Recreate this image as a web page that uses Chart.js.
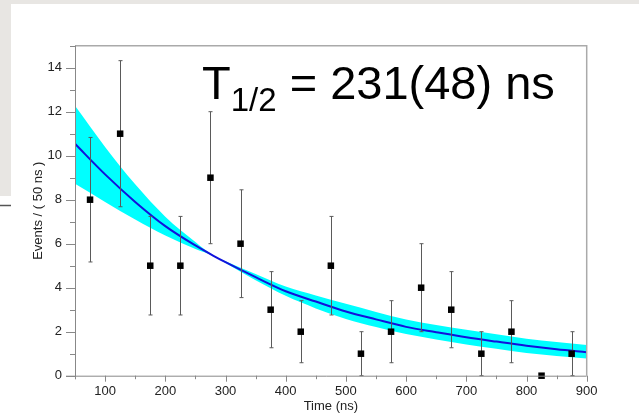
<!DOCTYPE html>
<html>
<head>
<meta charset="utf-8">
<script src="https://cdn.jsdelivr.net/npm/chart.js@4"></script>
<style>
  html, body { margin: 0; padding: 0; background: #fff; }
  #chart { display: block; }
</style>
</head>
<body>
<canvas id="chart" width="639" height="414"></canvas>
<script>
// binned decay-time data (bin width 50 ns)
const binCenters = [75, 125, 175, 225, 275, 325, 375, 425, 475, 525, 575, 625, 675, 725, 775, 825, 875];
const counts = [8, 11, 5, 5, 9, 6, 3, 2, 5, 1, 2, 4, 3, 1, 2, 0, 1];
const countErr = [2.83, 3.32, 2.24, 2.24, 3, 2.45, 1.73, 1.41, 2.24, 1, 1.41, 2, 1.73, 1, 1.41, 0, 1];

// fitted exponential + error band
const fitX = [50, 100, 150, 200, 250, 280, 300, 350, 400, 450, 500, 550, 600, 650, 700, 750, 800, 850, 900];
const fitY = [10.54, 9.15, 7.9, 6.8, 5.92, 5.45, 5.16, 4.48, 3.84, 3.37, 2.92, 2.56, 2.22, 1.98, 1.75, 1.55, 1.36, 1.2, 1.07];
const bandHigh = [12.27, 10.4, 8.7, 7.23, 6.08, 5.46, 5.2, 4.62, 4.05, 3.65, 3.27, 2.9, 2.56, 2.31, 2.09, 1.88, 1.68, 1.53, 1.39];
const bandLow = [8.72, 7.9, 7.1, 6.37, 5.76, 5.44, 5.12, 4.34, 3.63, 3.06, 2.58, 2.21, 1.89, 1.65, 1.42, 1.22, 1.03, 0.9, 0.78];

const xTickLabels = [100, 200, 300, 400, 500, 600, 700, 800, 900];
const yTickLabels = [0, 2, 4, 6, 8, 10, 12, 14];

const FONT = '"Liberation Sans", Arial, Helvetica, sans-serif';
const toXY = (xs, ys) => xs.map((x, i) => ({ x: x, y: ys[i] }));

const pagePlugin = {
  id: 'page',
  beforeDraw(chart) {
    const ctx = chart.ctx;
    ctx.save();
    ctx.fillStyle = '#fff';
    ctx.fillRect(0, 0, chart.width, chart.height);
    ctx.fillStyle = '#e8e6e3';
    ctx.fillRect(0, 0, chart.width, 4);
    ctx.fillRect(0, 0, 11, 196);
    ctx.strokeStyle = '#555';
    ctx.lineWidth = 1.5;
    ctx.beginPath();
    ctx.moveTo(0, 205.5);
    ctx.lineTo(11, 205.5);
    ctx.stroke();
    ctx.restore();
  }
};

const errorBars = {
  id: 'errorBars',
  beforeDatasetDraw(chart, args) {
    if (args.index !== 3) return;
    const ctx = chart.ctx;
    const xs = chart.scales.x, ys = chart.scales.y;
    ctx.save();
    ctx.strokeStyle = '#5a5a5a';
    ctx.lineWidth = 1;
    binCenters.forEach((c, i) => {
      const e = countErr[i];
      if (!e) return;
      const px = Math.round(xs.getPixelForValue(c)) + 0.5;
      const top = ys.getPixelForValue(counts[i] + e);
      const bot = ys.getPixelForValue(counts[i] - e);
      ctx.beginPath();
      ctx.moveTo(px, top);
      ctx.lineTo(px, bot);
      ctx.moveTo(px - 2, top);
      ctx.lineTo(px + 2, top);
      ctx.moveTo(px - 2, bot);
      ctx.lineTo(px + 2, bot);
      ctx.stroke();
    });
    ctx.restore();
  }
};

const frame = {
  id: 'frame',
  afterDraw(chart) {
    const ctx = chart.ctx;
    const { left, right, top, bottom } = chart.chartArea;
    const xs = chart.scales.x, ys = chart.scales.y;
    ctx.save();
    // top and right border
    ctx.strokeStyle = '#aaa';
    ctx.lineWidth = 1.5;
    ctx.beginPath();
    ctx.moveTo(left, top);
    ctx.lineTo(right, top);
    ctx.lineTo(right, bottom);
    ctx.stroke();
    // axes and ticks
    ctx.strokeStyle = '#888';
    ctx.lineWidth = 1;
    ctx.beginPath();
    ctx.moveTo(left + 0.5, top);
    ctx.lineTo(left + 0.5, bottom + 3.5);
    ctx.moveTo(left - 9, bottom + 0.5);
    ctx.lineTo(right, bottom + 0.5);
    for (let v = 0; v <= 15; v++) {
      const py = Math.round(ys.getPixelForValue(v)) + 0.5;
      const len = v % 2 === 0 ? 9 : 5;
      ctx.moveTo(left - len, py);
      ctx.lineTo(left, py);
    }
    for (let v = 50; v <= 900; v += 50) {
      const px = Math.round(xs.getPixelForValue(v)) + 0.5;
      const len = v % 100 === 0 ? 6 : 3.5;
      ctx.moveTo(px, bottom);
      ctx.lineTo(px, bottom + len);
    }
    ctx.stroke();

    // half-life annotation
    ctx.fillStyle = '#000';
    ctx.textBaseline = 'alphabetic';
    let x = left + 127;
    const base = top + 53.5;
    ctx.font = '47px ' + FONT;
    ctx.fillText('T', x, base);
    x += ctx.measureText('T').width;
    ctx.font = '33px ' + FONT;
    ctx.fillText('1/2', x, base + 12);
    x += ctx.measureText('1/2').width;
    ctx.font = '47px ' + FONT;
    ctx.fillText(' = 231(48) ns', x, base);
    ctx.restore();
  }
};

const ctx = document.getElementById('chart').getContext('2d');
const myChart = new Chart(ctx, {
  type: 'line',
  data: {
    datasets: [
      {
        label: 'band high',
        data: toXY(fitX, bandHigh),
        order: 10,
        borderWidth: 0,
        borderColor: 'rgba(0,0,0,0)',
        backgroundColor: '#00ffff',
        pointRadius: 0,
        cubicInterpolationMode: 'monotone',
        fill: '+1'
      },
      {
        label: 'band low',
        data: toXY(fitX, bandLow),
        order: 9,
        borderWidth: 0,
        borderColor: 'rgba(0,0,0,0)',
        pointRadius: 0,
        cubicInterpolationMode: 'monotone',
        fill: false
      },
      {
        label: 'fit',
        data: toXY(fitX, fitY),
        order: 5,
        borderColor: '#1212dc',
        borderWidth: 2,
        pointRadius: 0,
        cubicInterpolationMode: 'monotone',
        fill: false
      },
      {
        label: 'data',
        data: toXY(binCenters, counts),
        order: 1,
        showLine: false,
        pointStyle: 'rect',
        pointRadius: 4.6,
        pointBorderWidth: 0,
        pointBackgroundColor: '#000',
        clip: false
      }
    ]
  },
  options: {
    responsive: false,
    animation: false,
    events: [],
    layout: { padding: { top: 45.7, right: 52.3, left: 0, bottom: 0 } },
    plugins: { legend: { display: false }, tooltip: { enabled: false } },
    scales: {
      x: {
        type: 'linear',
        min: 50,
        max: 900,
        afterBuildTicks: s => { s.ticks = xTickLabels.map(v => ({ value: v })); },
        afterFit: s => { s.height = 38.3; },
        grid: { display: false, drawTicks: true, tickLength: 6 },
        border: { display: false },
        ticks: { padding: 2, maxRotation: 0, color: '#222', font: { family: FONT, size: 13 } },
        title: {
          display: true,
          text: 'Time (ns)',
          color: '#222',
          font: { family: FONT, size: 13 },
          padding: { top: 0, bottom: 0 }
        }
      },
      y: {
        min: 0,
        max: 15,
        afterBuildTicks: s => { s.ticks = yTickLabels.map(v => ({ value: v })); },
        afterFit: s => { s.width = 75; },
        grid: { display: false, drawTicks: true, tickLength: 9 },
        border: { display: false },
        ticks: { padding: 4, color: '#222', font: { family: FONT, size: 13 } },
        title: {
          display: true,
          text: 'Events / ( 50 ns )',
          color: '#222',
          font: { family: FONT, size: 13 },
          padding: { top: 31, bottom: 0 }
        }
      }
    }
  },
  plugins: [pagePlugin, errorBars, frame]
});
</script>
</body>
</html>
